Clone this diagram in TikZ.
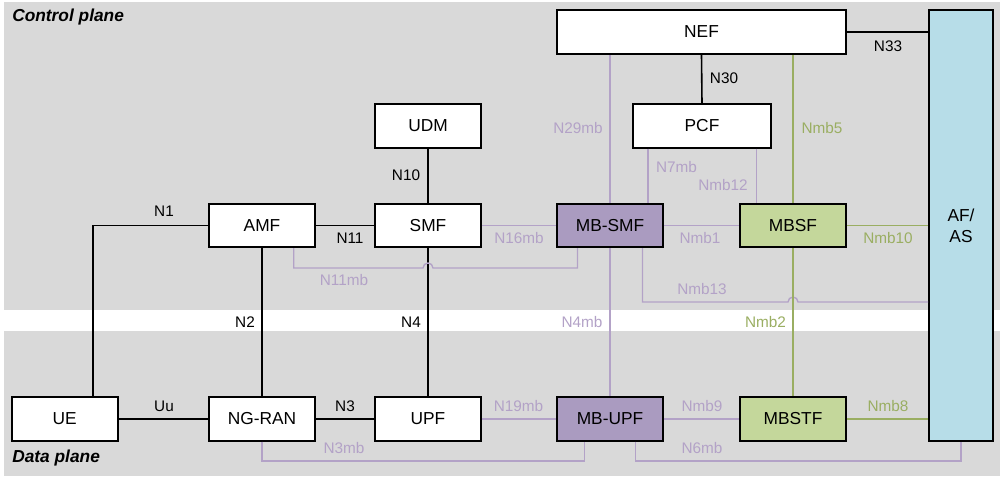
\documentclass[tikz,border=0pt]{standalone}
\usepackage{fontspec}
\setmainfont{Liberation Sans}
\usetikzlibrary{calc}
\definecolor{bggrey}{HTML}{D9D9D9}
\definecolor{pline}{HTML}{B3A2C7}
\definecolor{mbfill}{HTML}{AA9BC0}
\definecolor{gfill}{HTML}{C4D79B}
\definecolor{gline}{HTML}{9AAE62}
\definecolor{afblue}{HTML}{B7DDE8}
\begin{document}
\begin{tikzpicture}[x=0.75pt,y=-0.75pt,
  box/.style={draw=black, line width=1.3pt, fill=white, inner sep=0pt,
    minimum width=79.5pt, minimum height=32.6pt, font=\fontsize{13}{16}\selectfont},
  mbbox/.style={box, fill=mbfill},
  gbox/.style={box, fill=gfill},
  bline/.style={draw=black, line width=1.2pt},
  pl/.style={draw=pline, line width=1pt},
  gl/.style={draw=gline, line width=1pt},
  lab/.style={inner sep=0pt, font=\fontsize{11.5}{13}\selectfont},
  plab/.style={lab, text=pline},
  glab/.style={lab, text=gline},
  title/.style={inner sep=0pt, anchor=west, font=\fontsize{13}{15}\selectfont\bfseries\itshape}
]
\useasboundingbox (0,0) rectangle (1003,480);
\fill[bggrey] (4,2) rectangle (1000,310);
\fill[bggrey] (4,331) rectangle (1000,476);
\node[title] (cp) at (12,17.5) {Control plane};
\node[title] (dp) at (12,458.5) {Data plane};

% boxes
\node[box] (UE) at (64.7,419) {UE};
\node[box] (NGRAN) at (262,419) {NG-RAN};
\node[box] (UPF) at (428,419) {UPF};
\node[mbbox] (MBUPF) at (610,419) {MB-UPF};
\node[gbox] (MBSTF) at (793,419) {MBSTF};
\node[box] (AMF) at (262,225.5) {AMF};
\node[box] (SMF) at (428,225.5) {SMF};
\node[mbbox] (MBSMF) at (610,225.5) {MB-SMF};
\node[gbox] (MBSF) at (793,225.5) {MBSF};
\node[box] (UDM) at (428,126) {UDM};
\node[box, minimum width=103.5pt] (PCF) at (702,126) {PCF};
\node[box, minimum width=216.75pt, minimum height=33pt] (NEF) at (701.5,32) {NEF};
\node[box, fill=afblue, minimum width=48pt, minimum height=323.25pt, align=center,
  font=\fontsize{13}{16}\selectfont] (AF) at (961,225.5) {AF/\\AS};

% helper coordinates
\coordinate (lvlA) at (0,268);
\coordinate (lvlB) at (0,302);
\coordinate (lvlC) at (0,461);
\coordinate (n1a) at ($(UE.north)+(28,0)$);
\coordinate (n7) at ($(PCF.south west)+(16,0)$);
\coordinate (n12) at ($(PCF.south east)+(-15.3,0)$);
\coordinate (n11a) at ($(AMF.south)+(31.7,0)$);
\coordinate (n11b) at ($(MBSMF.south west)+(21.3,0)$);
\coordinate (n13a) at ($(MBSMF.south east)+(-21.3,0)$);
\coordinate (n3b) at ($(MBUPF.south west)+(28.3,0)$);
\coordinate (n6a) at ($(MBUPF.south east)+(-28.3,0)$);

% black connectors
\draw[bline] (n1a) |- (AMF.west);
\draw[bline] (AMF.south) -- (NGRAN.north);
\draw[bline] (UE.east) -- (NGRAN.west);
\draw[bline] (NGRAN.east) -- (UPF.west);
\draw[bline] (AMF.east) -- (SMF.west);
\draw[bline] (UDM.south) -- (SMF.north);
\draw[bline] (SMF.south) -- (UPF.north);
\draw[bline] (NEF.south) -- (PCF.north);
\draw[bline] (NEF.east) -- (NEF.east -| AF.west);

% purple connectors
\draw[pl] (NEF.south -| MBSMF.north) -- (MBSMF.north);
\draw[pl] (n7) -- (n7 |- MBSMF.north);
\draw[pl] (n12) -- (n12 |- MBSF.north);
\draw[pl] (SMF.east) -- (MBSMF.west);
\draw[pl] (MBSMF.east) -- (MBSF.west);
\draw[pl] (MBSMF.south) -- (MBUPF.north);
\draw[pl] (UPF.east) -- (MBUPF.west);
\draw[pl] (MBUPF.east) -- (MBSTF.west);
\draw[pl] (n11a) -- (n11a |- lvlA) -- ($(SMF.south |- lvlA)+(-5,0)$)
  arc[start angle=180, end angle=0, radius=3.75pt] -- (n11b |- lvlA) -- (n11b);
\draw[pl] (n13a) -- (n13a |- lvlB) -- ($(MBSF.south |- lvlB)+(-5,0)$)
  arc[start angle=180, end angle=0, radius=3.75pt] -- (lvlB -| AF.west);
\draw[pl] (NGRAN.south) -- (NGRAN.south |- lvlC) -- (n3b |- lvlC) -- (n3b);
\draw[pl] (n6a) -- (n6a |- lvlC) -- (AF.south |- lvlC) -- (AF.south);

% green connectors
\draw[gl] (NEF.south -| MBSF.north) -- (MBSF.north);
\draw[gl] (MBSF.south) -- (MBSTF.north);
\draw[gl] (MBSF.east) -- (MBSF.east -| AF.west);
\draw[gl] (MBSTF.east) -- (MBSTF.east -| AF.west);

% labels
\node[lab] (lN33) at (888,46) {N33};
\node[lab] (lN30) at (724,78) {N30};
\node[plab] (lN29) at (578,128) {N29mb};
\node[glab] (lNmb5) at (822,128) {Nmb5};
\node[plab] (lN7) at (676.5,167) {N7mb};
\node[plab] (lNmb12) at (723,185) {Nmb12};
\node[lab] (lN10) at (406,175) {N10};
\node[lab] (lN1) at (164,211.5) {N1};
\node[lab] (lN11) at (350,238) {N11};
\node[plab] (lN16) at (519,238) {N16mb};
\node[plab] (lNmb1) at (700,238) {Nmb1};
\node[glab] (lNmb10) at (888,238) {Nmb10};
\node[plab] (lN11mb) at (344,280) {N11mb};
\node[plab] (lNmb13) at (702,289) {Nmb13};
\node[lab] (lN2) at (245,322) {N2};
\node[lab] (lN4) at (411,322) {N4};
\node[plab] (lN4mb) at (582,322) {N4mb};
\node[glab] (lNmb2) at (765.5,322) {Nmb2};
\node[lab] (lUu) at (164,406) {Uu};
\node[lab] (lN3) at (345,406) {N3};
\node[plab] (lN19) at (518.5,406) {N19mb};
\node[plab] (lNmb9) at (702,406) {Nmb9};
\node[glab] (lNmb8) at (888,406) {Nmb8};
\node[plab] (lN3mb) at (344,448.5) {N3mb};
\node[plab] (lN6mb) at (702,448.5) {N6mb};
\end{tikzpicture}
\end{document}
